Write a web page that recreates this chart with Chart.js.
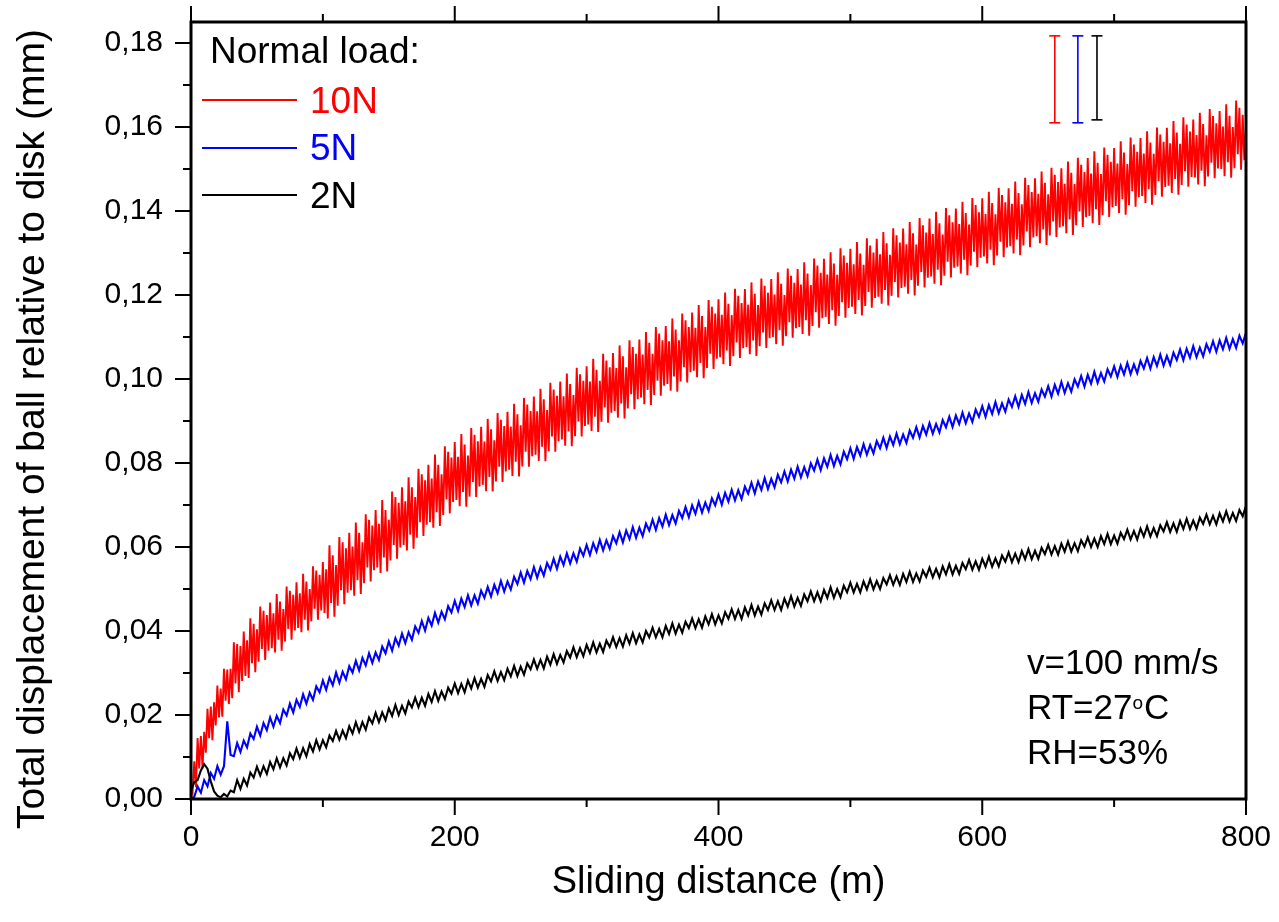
<!DOCTYPE html>
<html>
<head>
<meta charset="utf-8">
<title>Total displacement of ball relative to disk</title>
<script src="https://cdn.jsdelivr.net/npm/chart.js@4.4.1/dist/chart.umd.min.js"></script>
<style>
  html, body { margin: 0; padding: 0; background: #fff; }
  #wrap { width: 1279px; height: 922px; }
</style>
</head>
<body>
<div id="wrap"><canvas id="chart" width="1279" height="922"></canvas></div>
<script>
// sliding distance (m) for the 10 N trace, one sample every 1.25 m
const distanceFine = [
  0,1.25,2.5,3.75,5,6.25,7.5,8.75,10,11.25,12.5,13.75,15,16.25,17.5,18.75,
  20,21.25,22.5,23.75,25,26.25,27.5,28.75,30,31.25,32.5,33.75,35,36.25,37.5,38.75,
  40,41.25,42.5,43.75,45,46.25,47.5,48.75,50,51.25,52.5,53.75,55,56.25,57.5,58.75,
  60,61.25,62.5,63.75,65,66.25,67.5,68.75,70,71.25,72.5,73.75,75,76.25,77.5,78.75,
  80,81.25,82.5,83.75,85,86.25,87.5,88.75,90,91.25,92.5,93.75,95,96.25,97.5,98.75,
  100,101.25,102.5,103.75,105,106.25,107.5,108.75,110,111.25,112.5,113.75,115,116.25,117.5,118.75,
  120,121.25,122.5,123.75,125,126.25,127.5,128.75,130,131.25,132.5,133.75,135,136.25,137.5,138.75,
  140,141.25,142.5,143.75,145,146.25,147.5,148.75,150,151.25,152.5,153.75,155,156.25,157.5,158.75,
  160,161.25,162.5,163.75,165,166.25,167.5,168.75,170,171.25,172.5,173.75,175,176.25,177.5,178.75,
  180,181.25,182.5,183.75,185,186.25,187.5,188.75,190,191.25,192.5,193.75,195,196.25,197.5,198.75,
  200,201.25,202.5,203.75,205,206.25,207.5,208.75,210,211.25,212.5,213.75,215,216.25,217.5,218.75,
  220,221.25,222.5,223.75,225,226.25,227.5,228.75,230,231.25,232.5,233.75,235,236.25,237.5,238.75,
  240,241.25,242.5,243.75,245,246.25,247.5,248.75,250,251.25,252.5,253.75,255,256.25,257.5,258.75,
  260,261.25,262.5,263.75,265,266.25,267.5,268.75,270,271.25,272.5,273.75,275,276.25,277.5,278.75,
  280,281.25,282.5,283.75,285,286.25,287.5,288.75,290,291.25,292.5,293.75,295,296.25,297.5,298.75,
  300,301.25,302.5,303.75,305,306.25,307.5,308.75,310,311.25,312.5,313.75,315,316.25,317.5,318.75,
  320,321.25,322.5,323.75,325,326.25,327.5,328.75,330,331.25,332.5,333.75,335,336.25,337.5,338.75,
  340,341.25,342.5,343.75,345,346.25,347.5,348.75,350,351.25,352.5,353.75,355,356.25,357.5,358.75,
  360,361.25,362.5,363.75,365,366.25,367.5,368.75,370,371.25,372.5,373.75,375,376.25,377.5,378.75,
  380,381.25,382.5,383.75,385,386.25,387.5,388.75,390,391.25,392.5,393.75,395,396.25,397.5,398.75,
  400,401.25,402.5,403.75,405,406.25,407.5,408.75,410,411.25,412.5,413.75,415,416.25,417.5,418.75,
  420,421.25,422.5,423.75,425,426.25,427.5,428.75,430,431.25,432.5,433.75,435,436.25,437.5,438.75,
  440,441.25,442.5,443.75,445,446.25,447.5,448.75,450,451.25,452.5,453.75,455,456.25,457.5,458.75,
  460,461.25,462.5,463.75,465,466.25,467.5,468.75,470,471.25,472.5,473.75,475,476.25,477.5,478.75,
  480,481.25,482.5,483.75,485,486.25,487.5,488.75,490,491.25,492.5,493.75,495,496.25,497.5,498.75,
  500,501.25,502.5,503.75,505,506.25,507.5,508.75,510,511.25,512.5,513.75,515,516.25,517.5,518.75,
  520,521.25,522.5,523.75,525,526.25,527.5,528.75,530,531.25,532.5,533.75,535,536.25,537.5,538.75,
  540,541.25,542.5,543.75,545,546.25,547.5,548.75,550,551.25,552.5,553.75,555,556.25,557.5,558.75,
  560,561.25,562.5,563.75,565,566.25,567.5,568.75,570,571.25,572.5,573.75,575,576.25,577.5,578.75,
  580,581.25,582.5,583.75,585,586.25,587.5,588.75,590,591.25,592.5,593.75,595,596.25,597.5,598.75,
  600,601.25,602.5,603.75,605,606.25,607.5,608.75,610,611.25,612.5,613.75,615,616.25,617.5,618.75,
  620,621.25,622.5,623.75,625,626.25,627.5,628.75,630,631.25,632.5,633.75,635,636.25,637.5,638.75,
  640,641.25,642.5,643.75,645,646.25,647.5,648.75,650,651.25,652.5,653.75,655,656.25,657.5,658.75,
  660,661.25,662.5,663.75,665,666.25,667.5,668.75,670,671.25,672.5,673.75,675,676.25,677.5,678.75,
  680,681.25,682.5,683.75,685,686.25,687.5,688.75,690,691.25,692.5,693.75,695,696.25,697.5,698.75,
  700,701.25,702.5,703.75,705,706.25,707.5,708.75,710,711.25,712.5,713.75,715,716.25,717.5,718.75,
  720,721.25,722.5,723.75,725,726.25,727.5,728.75,730,731.25,732.5,733.75,735,736.25,737.5,738.75,
  740,741.25,742.5,743.75,745,746.25,747.5,748.75,750,751.25,752.5,753.75,755,756.25,757.5,758.75,
  760,761.25,762.5,763.75,765,766.25,767.5,768.75,770,771.25,772.5,773.75,775,776.25,777.5,778.75,
  780,781.25,782.5,783.75,785,786.25,787.5,788.75,790,791.25,792.5,793.75,795,796.25,797.5,798.75,
  800
];

// sliding distance (m) for the 5 N and 2 N traces, one sample every 2.5 m
const distance = [
  0,2.5,5,7.5,10,12.5,15,17.5,20,22.5,25,27.5,30,32.5,35,37.5,40,42.5,45,47.5,
  50,52.5,55,57.5,60,62.5,65,67.5,70,72.5,75,77.5,80,82.5,85,87.5,90,92.5,95,97.5,
  100,102.5,105,107.5,110,112.5,115,117.5,120,122.5,125,127.5,130,132.5,135,137.5,140,142.5,145,147.5,
  150,152.5,155,157.5,160,162.5,165,167.5,170,172.5,175,177.5,180,182.5,185,187.5,190,192.5,195,197.5,
  200,202.5,205,207.5,210,212.5,215,217.5,220,222.5,225,227.5,230,232.5,235,237.5,240,242.5,245,247.5,
  250,252.5,255,257.5,260,262.5,265,267.5,270,272.5,275,277.5,280,282.5,285,287.5,290,292.5,295,297.5,
  300,302.5,305,307.5,310,312.5,315,317.5,320,322.5,325,327.5,330,332.5,335,337.5,340,342.5,345,347.5,
  350,352.5,355,357.5,360,362.5,365,367.5,370,372.5,375,377.5,380,382.5,385,387.5,390,392.5,395,397.5,
  400,402.5,405,407.5,410,412.5,415,417.5,420,422.5,425,427.5,430,432.5,435,437.5,440,442.5,445,447.5,
  450,452.5,455,457.5,460,462.5,465,467.5,470,472.5,475,477.5,480,482.5,485,487.5,490,492.5,495,497.5,
  500,502.5,505,507.5,510,512.5,515,517.5,520,522.5,525,527.5,530,532.5,535,537.5,540,542.5,545,547.5,
  550,552.5,555,557.5,560,562.5,565,567.5,570,572.5,575,577.5,580,582.5,585,587.5,590,592.5,595,597.5,
  600,602.5,605,607.5,610,612.5,615,617.5,620,622.5,625,627.5,630,632.5,635,637.5,640,642.5,645,647.5,
  650,652.5,655,657.5,660,662.5,665,667.5,670,672.5,675,677.5,680,682.5,685,687.5,690,692.5,695,697.5,
  700,702.5,705,707.5,710,712.5,715,717.5,720,722.5,725,727.5,730,732.5,735,737.5,740,742.5,745,747.5,
  750,752.5,755,757.5,760,762.5,765,767.5,770,772.5,775,777.5,780,782.5,785,787.5,790,792.5,795,797.5,
  800
];

// displacement (mm) under 10 N, on distanceFine
const load10N = [
  0.004,0.0018,0.009,0.0028,0.0145,0.0073,0.015,0.0073,0.016,0.011,0.0215,0.0145,0.022,0.014,0.023,0.0175,
  0.027,0.0194,0.0263,0.0196,0.031,0.0234,0.0308,0.0226,0.031,0.024,0.0373,0.0275,0.0369,0.0254,0.0364,0.0281,
  0.0399,0.0293,0.0378,0.0288,0.043,0.0323,0.0417,0.0302,0.0404,0.0327,0.0458,0.0357,0.0448,0.0331,0.0438,0.0353,
  0.0468,0.0359,0.0442,0.0349,0.0488,0.0379,0.047,0.0353,0.0452,0.0375,0.0506,0.0405,0.0496,0.0379,0.0486,0.0401,
  0.0516,0.0407,0.049,0.0397,0.0536,0.0427,0.0518,0.0401,0.05,0.0423,0.0554,0.0453,0.0544,0.0427,0.0534,0.0449,
  0.0564,0.0443,0.0547,0.043,0.0604,0.0467,0.058,0.0434,0.0557,0.046,0.0624,0.0497,0.0611,0.0464,0.0597,0.0491,
  0.0634,0.0497,0.0601,0.0484,0.0658,0.0521,0.0634,0.0488,0.0611,0.0514,0.0678,0.0551,0.0665,0.0518,0.0651,0.0545,
  0.0688,0.0551,0.0655,0.0538,0.0712,0.0575,0.0688,0.0542,0.0665,0.0568,0.0732,0.0605,0.0719,0.0572,0.0705,0.0599,
  0.0742,0.0605,0.0709,0.0592,0.0766,0.0629,0.0742,0.0596,0.0719,0.0622,0.0786,0.0659,0.0773,0.0626,0.0759,0.0653,
  0.0796,0.0659,0.0763,0.0646,0.082,0.0683,0.0796,0.065,0.0773,0.0676,0.084,0.0713,0.0827,0.068,0.0813,0.0707,
  0.085,0.0712,0.0815,0.0697,0.0869,0.0731,0.0844,0.0696,0.0818,0.072,0.0883,0.0755,0.0867,0.0719,0.0852,0.0744,
  0.0886,0.0748,0.0851,0.0733,0.0905,0.0767,0.088,0.0732,0.0854,0.0756,0.0919,0.0791,0.0903,0.0755,0.0888,0.078,
  0.0922,0.0784,0.0887,0.0769,0.0941,0.0803,0.0916,0.0768,0.089,0.0792,0.0955,0.0827,0.0939,0.0791,0.0924,0.0816,
  0.0958,0.082,0.0923,0.0805,0.0977,0.0839,0.0952,0.0804,0.0926,0.0828,0.0991,0.0863,0.0975,0.0827,0.096,0.0852,
  0.0994,0.0856,0.0959,0.0841,0.1013,0.0875,0.0988,0.084,0.0962,0.0864,0.1027,0.0899,0.1011,0.0863,0.0996,0.0888,
  0.103,0.0892,0.0994,0.0876,0.1048,0.091,0.1022,0.0874,0.0996,0.0898,0.106,0.0932,0.1044,0.0896,0.1028,0.092,
  0.1062,0.0924,0.1026,0.0908,0.108,0.0942,0.1054,0.0906,0.1028,0.093,0.1092,0.0964,0.1076,0.0928,0.106,0.0952,
  0.1094,0.0956,0.1058,0.094,0.1112,0.0974,0.1086,0.0938,0.106,0.0962,0.1124,0.0996,0.1108,0.096,0.1092,0.0984,
  0.1126,0.0988,0.109,0.0972,0.1144,0.1006,0.1118,0.097,0.1092,0.0994,0.1156,0.1028,0.114,0.0992,0.1124,0.1016,
  0.1158,0.102,0.1122,0.1004,0.1176,0.1038,0.115,0.1002,0.1124,0.1026,0.1188,0.106,0.1172,0.1024,0.1156,0.1048,
  0.119,0.1052,0.1153,0.1035,0.1206,0.1068,0.1179,0.1031,0.1152,0.1054,0.1215,0.1087,0.1198,0.105,0.1181,0.1073,
  0.1214,0.1076,0.1177,0.1059,0.123,0.1092,0.1203,0.1055,0.1176,0.1078,0.1239,0.1111,0.1222,0.1074,0.1205,0.1097,
  0.1238,0.11,0.1201,0.1083,0.1254,0.1116,0.1227,0.1079,0.12,0.1102,0.1263,0.1135,0.1246,0.1098,0.1229,0.1121,
  0.1262,0.1124,0.1225,0.1107,0.1278,0.114,0.1251,0.1103,0.1224,0.1126,0.1287,0.1159,0.127,0.1122,0.1253,0.1145,
  0.1286,0.1148,0.1249,0.1131,0.1302,0.1164,0.1275,0.1127,0.1248,0.115,0.1311,0.1183,0.1294,0.1146,0.1277,0.1169,
  0.131,0.1172,0.1273,0.1155,0.1326,0.1188,0.1299,0.1151,0.1272,0.1174,0.1335,0.1207,0.1318,0.117,0.1301,0.1193,
  0.1334,0.1196,0.1297,0.1179,0.135,0.1212,0.1323,0.1175,0.1296,0.1198,0.1359,0.1231,0.1342,0.1194,0.1325,0.1217,
  0.1358,0.122,0.1321,0.1203,0.1374,0.1236,0.1347,0.1199,0.132,0.1222,0.1383,0.1255,0.1366,0.1218,0.1349,0.1241,
  0.1382,0.1244,0.1345,0.1227,0.1398,0.126,0.1371,0.1223,0.1344,0.1246,0.1407,0.1279,0.139,0.1242,0.1373,0.1265,
  0.1406,0.1268,0.1369,0.1251,0.1422,0.1284,0.1395,0.1247,0.1368,0.127,0.1431,0.1303,0.1414,0.1266,0.1397,0.1289,
  0.143,0.1292,0.1393,0.1275,0.1446,0.1308,0.1419,0.1271,0.1392,0.1294,0.1455,0.1327,0.1438,0.129,0.1421,0.1313,
  0.1454,0.1316,0.1417,0.1299,0.147,0.1332,0.1443,0.1295,0.1416,0.1318,0.1479,0.1351,0.1462,0.1314,0.1445,0.1337,
  0.1478,0.134,0.1441,0.1323,0.1494,0.1356,0.1467,0.1319,0.144,0.1342,0.1503,0.1375,0.1486,0.1338,0.1469,0.1361,
  0.1502,0.1364,0.1465,0.1347,0.1518,0.138,0.1491,0.1343,0.1464,0.1366,0.1527,0.1399,0.151,0.1362,0.1493,0.1385,
  0.1526,0.1388,0.1489,0.1371,0.1542,0.1404,0.1515,0.1367,0.1488,0.139,0.1551,0.1423,0.1534,0.1386,0.1517,0.1409,
  0.155,0.1412,0.1513,0.1395,0.1566,0.1428,0.1539,0.1391,0.1512,0.1414,0.1575,0.1447,0.1558,0.141,0.1541,0.1433,
  0.1574,0.1436,0.1537,0.1419,0.159,0.1452,0.1563,0.1415,0.1536,0.1438,0.1599,0.1471,0.1582,0.1434,0.1565,0.1457,
  0.1598,0.146,0.1561,0.1443,0.1614,0.1476,0.1587,0.1439,0.156,0.1462,0.1623,0.1495,0.1606,0.1458,0.1589,0.1481,
  0.1618,0.148,0.1581,0.1463,0.1634,0.1496,0.1607,0.1459,0.158,0.1482,0.1643,0.1515,0.1626,0.1478,0.1609,0.1501,
  0.1638,0.15,0.1601,0.1483,0.1654,0.1516,0.1627,0.1479,0.16,0.1502,0.1663,0.1535,0.1646,0.1498,0.1629,0.1521,
  0.160
];

// displacement (mm) under 5 N, on distance
const load5N = [
  0,0.0005,0.003,0.0015,0.0045,0.003,0.0062,0.0048,0.0078,0.0058,0.0078,0.0185,0.0105,0.0102,0.0133,0.0112,0.0139,0.0123,0.0156,0.0143,
  0.0172,0.0151,0.0181,0.0164,0.0194,0.0172,0.0198,0.0181,0.0213,0.0199,0.0227,0.0206,0.0236,0.0219,0.0249,0.0227,0.0253,0.0236,0.0268,0.0254,
  0.0282,0.026,0.0289,0.0271,0.0301,0.0277,0.0303,0.0285,0.0316,0.0301,0.0329,0.0306,0.0336,0.0318,0.0347,0.0324,0.0349,0.0331,0.0363,0.0347,
  0.0375,0.0353,0.0383,0.0365,0.0394,0.0371,0.0397,0.0379,0.0411,0.0396,0.0424,0.0401,0.0431,0.0413,0.0443,0.042,0.0446,0.0428,0.0459,0.0444,
  0.0472,0.0448,0.0477,0.0457,0.0485,0.0461,0.0485,0.0465,0.0496,0.0479,0.0505,0.0482,0.051,0.049,0.0519,0.0494,0.0518,0.0499,0.0529,0.0512,
  0.0539,0.0515,0.0543,0.0524,0.0552,0.0527,0.0552,0.0532,0.0562,0.0546,0.0572,0.0548,0.0577,0.0557,0.0585,0.0561,0.0585,0.0565,0.0596,0.0579,
  0.0605,0.0581,0.0609,0.0589,0.0617,0.0592,0.0616,0.0596,0.0626,0.0609,0.0635,0.0611,0.0639,0.0619,0.0647,0.0622,0.0646,0.0626,0.0656,0.0639,
  0.0665,0.0641,0.0669,0.0649,0.0677,0.0652,0.0676,0.0656,0.0686,0.0669,0.0695,0.0671,0.0699,0.0679,0.0707,0.0682,0.0706,0.0686,0.0716,0.0699,
  0.0725,0.0701,0.0729,0.0708,0.0736,0.0711,0.0735,0.0714,0.0744,0.0727,0.0753,0.0728,0.0756,0.0736,0.0764,0.0738,0.0762,0.0742,0.0772,0.0754,
  0.078,0.0756,0.0784,0.0763,0.0791,0.0766,0.079,0.0769,0.0799,0.0782,0.0808,0.0783,0.0811,0.0791,0.0819,0.0793,0.0817,0.0797,0.0827,0.0809,
  0.0835,0.081,0.0838,0.0818,0.0845,0.082,0.0843,0.0823,0.0852,0.0835,0.086,0.0836,0.0863,0.0843,0.087,0.0845,0.0868,0.0848,0.0877,0.086,
  0.0885,0.0861,0.0888,0.0868,0.0895,0.087,0.0893,0.0873,0.0902,0.0885,0.091,0.0886,0.0913,0.0893,0.092,0.0895,0.0918,0.0898,0.0927,0.091,
  0.0935,0.091,0.0938,0.0917,0.0945,0.0919,0.0942,0.0922,0.0951,0.0934,0.0959,0.0934,0.0962,0.0941,0.0969,0.0943,0.0966,0.0946,0.0975,0.0958,
  0.0983,0.0958,0.0986,0.0965,0.0993,0.0967,0.099,0.097,0.0999,0.0982,0.1007,0.0982,0.101,0.0989,0.1017,0.0991,0.1014,0.0994,0.1023,0.1006,
  0.103,0.1005,0.1032,0.1011,0.1038,0.1012,0.1035,0.1014,0.1043,0.1025,0.105,0.1025,0.1052,0.1031,0.1058,0.1032,0.1055,0.1034,0.1063,0.1045,
  0.107,0.1045,0.1072,0.1051,0.1078,0.1052,0.1075,0.1054,0.1083,0.1065,0.109,0.1065,0.1092,0.1071,0.1098,0.1072,0.1095,0.1074,0.1103,0.1085,
  0.111
];

// displacement (mm) under 2 N, on distance
const load2N = [
  0.002,0.004,0.0045,0.0068,0.0083,0.0072,0.0042,0.0018,0.0008,0.0004,0.0012,0.0006,0.002,0.0016,0.0045,0.0024,0.0048,0.0032,0.0063,0.0051,
  0.0077,0.0056,0.0078,0.006,0.0088,0.0071,0.0097,0.0075,0.0097,0.008,0.0109,0.0095,0.012,0.0098,0.0121,0.0102,0.0131,0.0113,0.014,0.0118,
  0.014,0.0123,0.0151,0.0138,0.0162,0.0141,0.0163,0.0145,0.0173,0.0156,0.0183,0.016,0.0183,0.0165,0.0194,0.018,0.0205,0.0183,0.0206,0.0188,
  0.0216,0.0198,0.0224,0.02,0.0222,0.0204,0.0232,0.0218,0.0241,0.0219,0.0241,0.0222,0.025,0.0231,0.0257,0.0234,0.0256,0.0238,0.0265,0.0251,
  0.0275,0.0252,0.0274,0.0254,0.0282,0.0263,0.0288,0.0265,0.0286,0.0267,0.0295,0.028,0.0304,0.0281,0.0302,0.0283,0.031,0.0292,0.0317,0.0293,
  0.0315,0.0296,0.0323,0.0309,0.0332,0.031,0.0331,0.0311,0.0339,0.032,0.0345,0.0322,0.0343,0.0325,0.0352,0.0337,0.0361,0.0338,0.0359,0.034,
  0.0367,0.0348,0.0373,0.0349,0.037,0.035,0.0377,0.0362,0.0385,0.0362,0.0383,0.0363,0.039,0.037,0.0395,0.0371,0.0392,0.0373,0.04,0.0385,
  0.0408,0.0385,0.0405,0.0385,0.0412,0.0393,0.0418,0.0394,0.0415,0.0396,0.0422,0.0407,0.043,0.0407,0.0428,0.0408,0.0435,0.0416,0.044,0.0416,
  0.0437,0.0418,0.0445,0.0429,0.0452,0.0429,0.045,0.0429,0.0456,0.0437,0.0462,0.0437,0.0458,0.0439,0.0466,0.045,0.0473,0.045,0.0471,0.045,
  0.0477,0.0458,0.0483,0.0458,0.0479,0.046,0.0487,0.0471,0.0494,0.0471,0.0492,0.0471,0.0498,0.0479,0.0504,0.0479,0.05,0.0481,0.0508,0.0492,
  0.0515,0.0492,0.0512,0.0492,0.0518,0.0499,0.0523,0.0499,0.0519,0.05,0.0526,0.0511,0.0533,0.051,0.053,0.051,0.0536,0.0517,0.0541,0.0517,
  0.0537,0.0518,0.0544,0.0529,0.0551,0.0528,0.0548,0.0528,0.0554,0.0535,0.0559,0.0535,0.0555,0.0536,0.0562,0.0547,0.0569,0.0546,0.0566,0.0546,
  0.0572,0.0553,0.0577,0.0553,0.0573,0.0554,0.058,0.0565,0.0587,0.0564,0.0584,0.0564,0.059,0.0571,0.0595,0.0571,0.0591,0.0572,0.0598,0.0583,
  0.0605,0.0582,0.0602,0.0582,0.0608,0.0589,0.0613,0.0589,0.0609,0.059,0.0616,0.0601,0.0623,0.06,0.062,0.06,0.0626,0.0607,0.0631,0.0607,
  0.0627,0.0608,0.0634,0.0619,0.0641,0.0618,0.0638,0.0618,0.0644,0.0625,0.0649,0.0625,0.0645,0.0626,0.0652,0.0637,0.0659,0.0636,0.0656,0.0636,
  0.0662,0.0643,0.0667,0.0643,0.0663,0.0644,0.067,0.0655,0.0677,0.0654,0.0674,0.0654,0.068,0.0661,0.0685,0.0661,0.0681,0.0662,0.0688,0.0673,
  0.0698
];

// error bars drawn in the top right corner
const errX = [655, 672.5, 687];
const errLow = [0.161, 0.161, 0.1617];
const errHigh = [0.1817, 0.1817, 0.1817];

const loadLabels = ['10N', '5N', '2N'];
const loadColors = ['#ff0000', '#0000ff', '#000000'];
const lineWidths = [1.9, 2.1, 2.1];
const legendTitle = 'Normal load:';
const xTitle = 'Sliding distance (m)';
const yTitle = 'Total displacement of ball relative to disk (mm)';
// test conditions, the "o" of RT is raised
const conditions = [
  [['v=100 mm/s', false]],
  [['RT=27', false], ['o', true], ['C', false]],
  [['RH=53%', false]]
];

const family = "'Liberation Sans', Arial, Helvetica, sans-serif";
Chart.defaults.font.family = family;
Chart.defaults.color = '#000';

// frame, tick marks, y title, legend and the conditions text
const overlay = {
  id: 'overlay',
  afterDatasetsDraw(chart) {
    const {ctx, chartArea: a, scales: {x, y}} = chart;
    ctx.save();
    ctx.strokeStyle = '#000';
    ctx.lineWidth = 2;
    ctx.beginPath();
    x.ticks.forEach(t => {
      const px = x.getPixelForValue(t.value);
      const len = t.value % 200 === 0 ? 16 : 8;
      ctx.moveTo(px, a.bottom); ctx.lineTo(px, a.bottom + len);
      ctx.moveTo(px, a.top); ctx.lineTo(px, a.top - len);
    });
    y.ticks.forEach(t => {
      const py = y.getPixelForValue(t.value);
      const len = Math.round(t.value * 100) % 2 === 0 ? 16 : 8;
      ctx.moveTo(a.left, py); ctx.lineTo(a.left - len, py);
    });
    ctx.stroke();
    ctx.lineWidth = 3;
    ctx.strokeRect(a.left, a.top, a.right - a.left, a.bottom - a.top);

    // y axis title, a bit lower than the plot centre as in the original
    ctx.fillStyle = '#000';
    ctx.font = '39px ' + family;
    ctx.textAlign = 'center';
    ctx.textBaseline = 'middle';
    ctx.translate(33, 429);
    ctx.rotate(-Math.PI / 2);
    ctx.fillText(yTitle, 0, 0);
    ctx.setTransform(1, 0, 0, 1, 0, 0);

    // legend
    ctx.textAlign = 'left';
    ctx.textBaseline = 'alphabetic';
    ctx.font = '37px ' + family;
    ctx.fillText(legendTitle, 210, 63);
    const lineY = [100, 148, 195];
    const textY = [113, 160, 208];
    chart.data.datasets.slice(0, 3).forEach((ds, k) => {
      ctx.strokeStyle = ds.borderColor;
      ctx.lineWidth = 2;
      ctx.beginPath();
      ctx.moveTo(202, lineY[k]);
      ctx.lineTo(297, lineY[k]);
      ctx.stroke();
      ctx.fillStyle = ds.borderColor;
      ctx.fillText(ds.label, 310, textY[k]);
    });

    // conditions
    ctx.fillStyle = '#000';
    const baseY = [674, 719, 764];
    conditions.forEach((parts, k) => {
      let cx = 1027;
      parts.forEach(([txt, sup]) => {
        ctx.font = (sup ? '19px ' : '35px ') + family;
        ctx.fillText(txt, cx, sup ? baseY[k] - 10 : baseY[k]);
        cx += ctx.measureText(txt).width + (sup ? 1 : 0);
      });
    });
    ctx.restore();
  }
};

const xValues = [distanceFine, distance, distance];
const datasets = [load10N, load5N, load2N].map((vals, k) => ({
  label: loadLabels[k],
  data: vals.map((v, i) => ({x: xValues[k][i], y: v})),
  borderColor: loadColors[k],
  backgroundColor: loadColors[k],
  borderWidth: lineWidths[k],
  pointRadius: 0,
  tension: 0,
  order: 3 - k
}));

errX.forEach((ex, k) => {
  datasets.push({
    label: loadLabels[k] + ' range',
    data: [{x: ex, y: errLow[k]}, {x: ex, y: errHigh[k]}],
    borderColor: loadColors[k],
    borderWidth: 1.6,
    pointStyle: 'line',
    pointRadius: 5.5,
    pointBorderWidth: 1.6,
    pointBorderColor: loadColors[k],
    order: 0
  });
});

new Chart(document.getElementById('chart').getContext('2d'), {
  type: 'line',
  data: {datasets},
  options: {
    responsive: false,
    animation: false,
    devicePixelRatio: 1,
    layout: {padding: {left: 0, right: 33, top: 22, bottom: 0}},
    plugins: {legend: {display: false}, tooltip: {enabled: false}},
    scales: {
      x: {
        type: 'linear',
        position: 'bottom',
        min: 0,
        max: 800,
        grid: {display: false, drawTicks: false},
        border: {display: false},
        ticks: {
          stepSize: 100,
          autoSkip: false,
          maxRotation: 0,
          padding: 21,
          font: {size: 30},
          callback: v => (v % 200 === 0 ? String(v) : '')
        },
        title: {display: true, text: xTitle, font: {size: 38}, padding: {top: 0, bottom: 17}},
        afterFit: s => { s.height = 123; s.paddingLeft = 0; s.paddingRight = 0; }
      },
      y: {
        type: 'linear',
        position: 'left',
        min: 0,
        max: 0.185,
        grid: {display: false, drawTicks: false},
        border: {display: false},
        ticks: {
          stepSize: 0.01,
          includeBounds: false,
          autoSkip: false,
          padding: 28,
          font: {size: 30},
          callback: v => (Math.round(v * 100) % 2 === 0 ? v.toFixed(2).replace('.', ',') : '')
        },
        title: {display: false},
        afterFit: s => { s.width = 191; s.paddingTop = 0; s.paddingBottom = 0; }
      }
    }
  },
  plugins: [overlay]
});
</script>
</body>
</html>
